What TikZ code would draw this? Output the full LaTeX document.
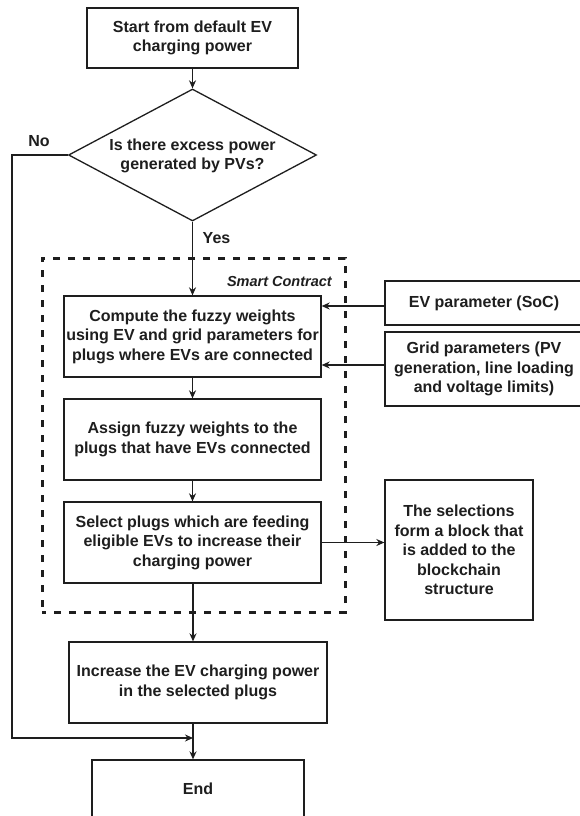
\documentclass[tikz,border=0pt]{standalone}
\usepackage{fontspec}
\setmainfont{Liberation Sans}
\usetikzlibrary{shapes.geometric,arrows.meta}
\definecolor{ink}{HTML}{1E1E1E}
\begin{document}
\begin{tikzpicture}[x=1pt,y=-1pt,
  txt/.style={font=\bfseries\fontsize{16}{19.5}\selectfont, text=ink, align=center, inner sep=0},
  box/.style={txt, draw=ink, line width=1.3pt, rectangle},
  arr/.style={draw=ink, line width=1.3pt, -{Stealth[length=8pt,width=7pt]}},
  lbl/.style={font=\bfseries\fontsize{16}{19.5}\selectfont, text=ink, inner sep=0},
  scbox/.style={draw=ink, dash pattern=on 7pt off 8pt, dash phase=3pt, line width=3pt, inner sep=0, rectangle}
]
\useasboundingbox (0,0) rectangle (580,816);
\fill[white] (0,0) rectangle (580,816);

% main flow
\node[box, minimum width=211pt, minimum height=60pt] (start) at (192.5,38) {Start from default EV\\charging power};
\node[diamond, draw=ink, line width=1.3pt, minimum width=248pt, minimum height=132pt, inner sep=0] (dec) at (192.5,155) {};
\node[txt] (dect) at (192.5,156) {Is there excess power\\generated by PVs?};

\node[scbox, minimum width=303pt, minimum height=354pt] (sc) at (193.5,435) {};
\node[font=\bfseries\itshape\fontsize{14.5}{17}\selectfont, text=ink, inner sep=0, anchor=east] (sclbl) at (332,282) {Smart Contract};

\node[box, minimum width=257pt, minimum height=81pt] (comp) at (192.5,336.5) {Compute the fuzzy weights\\using EV and grid parameters for\\plugs where EVs are connected};
\node[box, minimum width=257pt, minimum height=81pt] (assign) at (192.5,439.5) {Assign fuzzy weights to the\\plugs that have EVs connected};
\node[box, minimum width=257pt, minimum height=81pt] (select) at (192.5,542.5) {Select plugs which are feeding\\eligible EVs to increase their\\charging power};

\node[box, minimum width=198pt, minimum height=44pt] (ev) at (484,303) {EV parameter (SoC)};
\node[box, minimum width=198pt, minimum height=74pt] (grid) at (484,369) {Grid parameters (PV\\generation, line loading\\and voltage limits)};
\node[box, minimum width=148pt, minimum height=140pt] (sel) at (459,550) {The selections\\form a block that\\is added to the\\blockchain\\structure};

\node[box, minimum width=258pt, minimum height=81pt] (inc) at (198,682.5) {Increase the EV charging power\\in the selected plugs};
\node[box, minimum width=212pt, minimum height=58pt] (end) at (198,789) {End};

% labels
\node[lbl] (no) at (39,141) {No};
\node[lbl] (yes) at (216.5,238) {Yes};

% helper coordinates
\coordinate (evy) at (0,306);
\coordinate (gy) at (0,365);
\coordinate (fx) at (193,0);
\coordinate (nx) at (12,738);
\coordinate (join) at (193,738);

% connectors
\draw[arr] (start.south) -- (dec.north);
\draw[arr] (dec.south) -- (comp.north);
\draw[arr] (comp.south) -- (assign.north);
\draw[arr] (assign.south) -- (select.north);
\draw[arr] (ev.west |- evy) -- (comp.east |- evy);
\draw[arr] (grid.west |- gy) -- (comp.east |- gy);
\draw[arr] (select.east) -- (sel.west |- select.east);
\draw[arr] (select.south -| fx) -- (inc.north -| fx);
\draw[arr] (inc.south -| fx) -- (end.north -| fx);
\draw[arr] (dec.west) -- (dec.west -| nx) -- (nx) -- (join);
\end{tikzpicture}
\end{document}
